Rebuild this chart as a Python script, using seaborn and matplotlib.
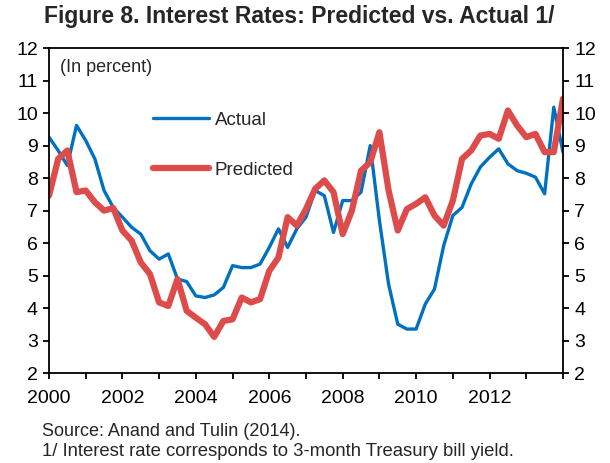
import numpy as np
import pandas as pd
import matplotlib
matplotlib.use("Agg")
import matplotlib.pyplot as plt
import seaborn as sns

# quarterly, 2000Q1 .. 2014Q1
actual = [9.26, 8.85, 8.39, 9.62, 9.16, 8.59, 7.62, 7.10, 6.80, 6.49,
          6.28, 5.77, 5.51, 5.67, 4.90, 4.82, 4.38, 4.33, 4.41, 4.64,
          5.31, 5.25, 5.25, 5.36, 5.87, 6.44, 5.87, 6.44, 6.80, 7.62,
          7.46, 6.33, 7.31, 7.31, 7.57, 9.00, 6.70, 4.74, 3.51, 3.36,
          3.36, 4.13, 4.59, 5.92, 6.85, 7.10, 7.82, 8.34, 8.64, 8.90,
          8.44, 8.23, 8.15, 8.03, 7.52, 10.18, 8.80]
predicted = [7.46, 8.59, 8.85, 7.57, 7.62, 7.26, 7.00, 7.08, 6.39, 6.08,
             5.41, 5.05, 4.18, 4.07, 4.90, 3.92, 3.71, 3.51, 3.12, 3.61,
             3.66, 4.33, 4.18, 4.28, 5.15, 5.56, 6.80, 6.54, 7.05, 7.67,
             7.93, 7.57, 6.28, 7.00, 8.23, 8.49, 9.41, 7.62, 6.39, 7.05,
             7.21, 7.41, 6.85, 6.54, 7.31, 8.59, 8.85, 9.31, 9.36, 9.21,
             10.08, 9.62, 9.26, 9.36, 8.80, 8.80, 10.44]
quarters = 2000 + np.arange(len(actual)) / 4.0
year_ticks = list(range(2000, 2015))
year_labels = [str(y) if y % 2 == 0 and y < 2014 else "" for y in year_ticks]
y_ticks = list(range(2, 13))

sns.set_style("white")
plt.rcParams['font.family'] = ['Liberation Sans', 'DejaVu Sans']

df = pd.DataFrame({"date": quarters, "Actual": actual, "Predicted": predicted})

fig = plt.figure(figsize=(6.1, 4.63), dpi=100)
ax = fig.add_axes([0.0803, 0.1937, 0.8426, 0.7026])

sns.lineplot(data=df, x="date", y="Actual", ax=ax, color="#0070C0",
             linewidth=2.4, label="Actual")
sns.lineplot(data=df, x="date", y="Predicted", ax=ax, color="#DD4B4B",
             linewidth=4.5, label="Predicted")

ax.set_xlim(2000, 2014)
ax.set_ylim(2, 12)
ax.set_xticks(year_ticks)
ax.set_xticklabels(year_labels)
ax.set_yticks(y_ticks)
ax.set_xlabel("")
ax.set_ylabel("")
for s in ax.spines.values():
    s.set_color("black")
    s.set_linewidth(1.3)
ax.tick_params(axis="both", direction="out", length=4, width=1.3,
               labelsize=14, colors="black")
ax.tick_params(axis="y", left=True, right=True, labelleft=True, labelright=True, pad=4)
ax.tick_params(axis="x", bottom=True, pad=8)

# legend sits inside the plot, no frame
leg = ax.legend(loc="upper left", bbox_to_anchor=(0.17, 0.856), frameon=False,
                fontsize=13.5, handlelength=2.95, labelspacing=1.75, handletextpad=0.32)

ax.text(0.022, 0.966, "(In percent)", transform=ax.transAxes, fontsize=13,
        va="top", ha="left")

fig.text(0.49, 0.989, "Figure 8. Interest Rates: Predicted vs. Actual 1/",
         ha="center", va="top", fontsize=16.5, fontweight="bold",
         family=['Liberation Sans Narrow', 'Liberation Sans', 'DejaVu Sans'])
fig.text(0.069, 0.067, "Source: Anand and Tulin (2014).", fontsize=13, va="center")
fig.text(0.069, 0.024, "1/ Interest rate corresponds to 3-month Treasury bill yield.",
         fontsize=13.3, va="center")

fig.savefig("out.png", dpi=100)
